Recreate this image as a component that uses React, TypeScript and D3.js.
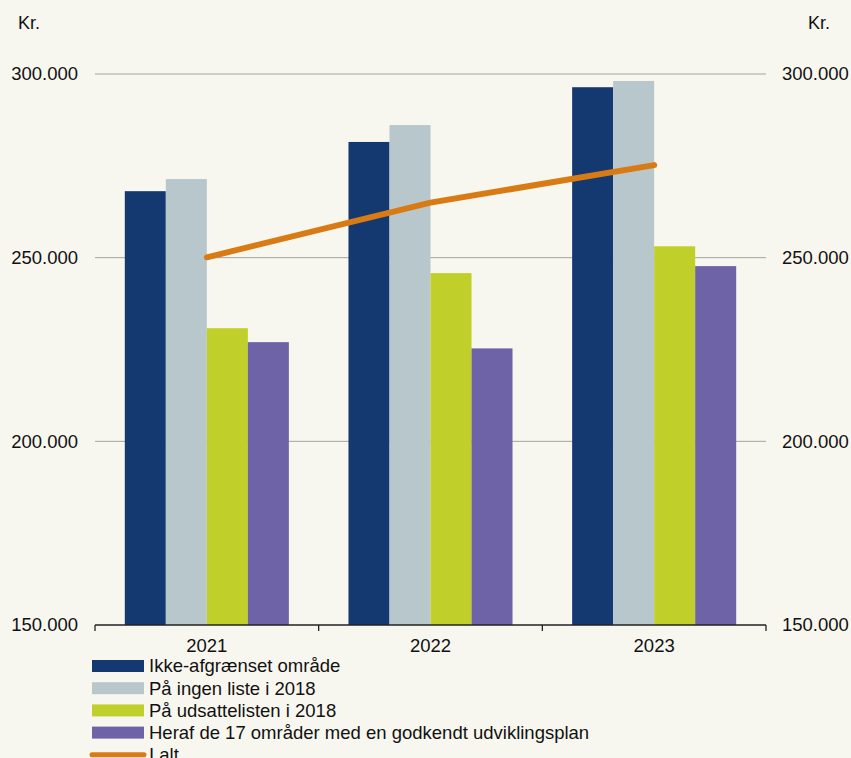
import React from "react";
import * as d3 from "d3";

const years = ["2021", "2022", "2023"];
const seriesNames = [
  "Ikke-afgrænset område",
  "På ingen liste i 2018",
  "På udsattelisten i 2018",
  "Heraf de 17 områder med en godkendt udviklingsplan",
];
const ikkeAfgraenset = [268100, 281500, 296400];
const paaIngenListe = [271400, 286100, 298100];
const paaUdsattelisten = [230800, 245800, 253100];
const heraf17 = [227000, 225300, 247700];
const iAlt = [250100, 265000, 275200];
const lineName = "I alt";
const yTicks = [150000, 200000, 250000, 300000];
const unitLabel = "Kr.";

const barColors = ["#143870", "#b8c7cc", "#c0cf2a", "#6e63a6"];
const lineColor = "#d97b14";
const bg = "#f8f7ef";

const W = 851;
const H = 758;
const M = { left: 95, right: 766, top: 74, bottom: 625 };

const fmt = (v: number) => d3.format(",")(v).replace(/,/g, ".");

export default function App() {
  const seriesValues = [ikkeAfgraenset, paaIngenListe, paaUdsattelisten, heraf17];
  const x = d3.scaleBand<string>().domain(years).range([M.left, M.right]).padding(0);
  const x1 = d3
    .scaleBand<string>()
    .domain(seriesNames)
    .range([0, x.bandwidth()])
    .paddingInner(0)
    .paddingOuter(0.727);
  const y = d3.scaleLinear().domain([150000, 300000]).range([M.bottom, M.top]);

  const line = d3
    .line<number>()
    .x((_, i) => (x(years[i]) as number) + x.bandwidth() / 2)
    .y((d) => y(d));

  const font = "'Liberation Sans', Arial, sans-serif";
  const boundaries = [...years.map((yr) => x(yr) as number), M.right];

  return (
    <svg
      width={W}
      height={H}
      style={{ position: "absolute", left: 0, top: 0, background: bg, fontFamily: font }}
    >
      <rect x={0} y={0} width={W} height={H} fill={bg} />
      {/* gridlines */}
      {yTicks.slice(1).map((t) => (
        <line key={t} x1={M.left} x2={M.right} y1={y(t)} y2={y(t)} stroke="#a3a3a0" strokeWidth={1} />
      ))}
      {/* y labels */}
      {yTicks.map((t) => (
        <g key={"l" + t}>
          <text x={78} y={y(t)} dy="0.35em" textAnchor="end" fontSize={18.5} fill="#111">
            {fmt(t)}
          </text>
          <text x={782} y={y(t)} dy="0.35em" textAnchor="start" fontSize={18.5} fill="#111">
            {fmt(t)}
          </text>
        </g>
      ))}
      <text x={18} y={29} fontSize={18} fill="#111">{unitLabel}</text>
      <text x={808} y={29} fontSize={18} fill="#111">{unitLabel}</text>
      {/* bars */}
      {years.map((yr, i) => (
        <g key={yr} transform={`translate(${x(yr)},0)`}>
          {seriesNames.map((s, j) => (
            <rect
              key={s}
              x={x1(s)}
              y={y(seriesValues[j][i])}
              width={x1.bandwidth()}
              height={y(150000) - y(seriesValues[j][i])}
              fill={barColors[j]}
            />
          ))}
        </g>
      ))}
      {/* line */}
      <path d={line(iAlt) || ""} fill="none" stroke={lineColor} strokeWidth={6} strokeLinecap="round" />
      {/* x axis */}
      <line x1={M.left} x2={M.right} y1={M.bottom} y2={M.bottom} stroke="#222" strokeWidth={1.3} />
      {boundaries.map((b, i) => (
        <line key={i} x1={b} x2={b} y1={M.bottom} y2={M.bottom + 6} stroke="#222" strokeWidth={1.3} />
      ))}
      {years.map((yr) => (
        <text
          key={yr}
          x={(x(yr) as number) + x.bandwidth() / 2}
          y={646}
          dy="0.35em"
          textAnchor="middle"
          fontSize={18.5}
          fill="#111"
        >
          {yr}
        </text>
      ))}
      {/* legend */}
      {seriesNames.map((s, j) => (
        <g key={s} transform={`translate(0,${666 + j * 22.2})`}>
          <rect x={92} y={-6} width={52} height={12} fill={barColors[j]} />
          <text x={149} y={0} dy="0.35em" fontSize={18.5} fill="#111">{s}</text>
        </g>
      ))}
      <g transform={`translate(0,${666 + 4 * 22.2})`}>
        <line x1={92} x2={144} y1={0} y2={0} stroke={lineColor} strokeWidth={5} strokeLinecap="round" />
        <text x={149} y={0} dy="0.35em" fontSize={18.5} fill="#111">{lineName}</text>
      </g>
    </svg>
  );
}
